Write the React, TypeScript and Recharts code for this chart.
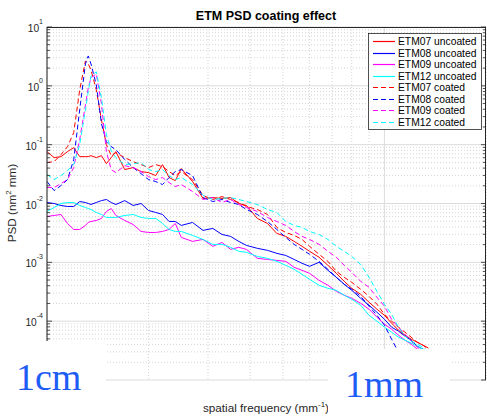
import React from "react";
import { CartesianGrid, Line, LineChart, XAxis, YAxis } from "recharts";

// spatial frequency (mm^-1)
const freq = [
  0.1, 0.105, 0.11, 0.115, 0.12, 0.125, 0.13, 0.1325, 0.135, 0.14,
  0.145, 0.15, 0.155, 0.16, 0.17, 0.18, 0.19, 0.2, 0.21, 0.22,
  0.23, 0.24, 0.25, 0.27, 0.29, 0.31, 0.33, 0.35, 0.37, 0.39,
  0.42, 0.45, 0.48, 0.51, 0.54, 0.57, 0.6, 0.64, 0.68, 0.72,
  0.76, 0.8, 0.85, 0.9, 0.95, 1.0, 1.05, 1.1, 1.15, 1.2,
  1.25, 1.3, 1.35,
];

const etm07Uncoated = [
  0.0761, 0.0602, 0.0626, 0.0761, 0.089, 0.0626, 0.0626, 0.0626, 0.0651, 0.0602,
  0.0651, 0.0476, 0.0602, 0.0761, 0.0377, 0.0408, 0.0349, 0.0335, 0.0298, 0.0458,
  0.0276, 0.0245, 0.0392, 0.0236, 0.0122, 0.0126, 0.0122, 0.0126, 0.01, 0.00925,
  0.00557, 0.00458, 0.0031, 0.00276, 0.00227, 0.00187, 0.00154, 0.00122, 0.00089, 0.000651,
  0.000476, 0.000362, 0.000287, 0.00021, 0.00016, 0.000126, 9.25e-5, 7.04e-5, 5.79e-5, 4.95e-5,
  4.4e-5, 3.92e-5, 3.49e-5,
];
const etm08Uncoated = [
  0.0104, 0.01, 0.00925, 0.0089, 0.0089, 0.0108, 0.0104, 0.01, 0.00962, 0.0104,
  0.0112, 0.0117, 0.0104, 0.00962, 0.0112, 0.00925, 0.01, 0.00761, 0.00704, 0.00651,
  0.00495, 0.00495, 0.00424, 0.00476, 0.00349, 0.00377, 0.00298, 0.00276, 0.00227, 0.00194,
  0.00173, 0.0016, 0.00142, 0.00131, 0.00112, 0.000962, 0.000855, 0.001, 0.000732, 0.000557,
  0.000424, 0.000335, 0.000245, 0.000187, 0.000142, 0.000108, 7.91e-5, 6.77e-5, 5.57e-5, 4.76e-5,
  3.77e-5, 3.35e-5, 3.1e-5,
];
const etm09Uncoated = [
  0.00602, 0.00626, 0.00651, 0.00458, 0.00362, 0.00362, 0.00424, 0.00476, 0.00495, 0.00515,
  0.00557, 0.00732, 0.00823, 0.00626, 0.00515, 0.0044, 0.00335, 0.00322, 0.00322, 0.00335,
  0.00362, 0.00458, 0.00265, 0.00227, 0.00245, 0.00187, 0.00218, 0.00166, 0.0018, 0.00166,
  0.00117, 0.00112, 0.00108, 0.00104, 0.000823, 0.000732, 0.000651, 0.000495, 0.000408, 0.000322,
  0.000276, 0.000245, 0.000202, 0.00016, 0.000117, 8.9e-5, 7.32e-5, 5.79e-5, 4.76e-5, 4.08e-5,
  3.35e-5, 3.0e-5, 2.65e-5,
];
const etm12Uncoated = [
  0.00732, 0.00855, 0.01, 0.0104, 0.0104, 0.00925, 0.00855, 0.00823, 0.00791, 0.00704,
  0.00651, 0.00579, 0.00579, 0.00579, 0.00626, 0.00651, 0.00579, 0.00557, 0.00557, 0.00458,
  0.00362, 0.00335, 0.00335, 0.00287, 0.00245, 0.00202, 0.00202, 0.0018, 0.00154, 0.00148,
  0.00126, 0.00117, 0.00104, 0.00089, 0.000761, 0.000626, 0.000515, 0.000408, 0.000362, 0.000335,
  0.000276, 0.000236, 0.000187, 0.000126, 0.0001, 7.91e-5, 6.51e-5, 5.35e-5, 4.76e-5, 4.24e-5,
  3.77e-5, 3.35e-5, 3.0e-5,
];
const etm07Coated = [
  0.0495, 0.0515, 0.0677, 0.0925, 0.16, 0.855, 2.65, 2.36, 1.87, 0.855,
  0.265, 0.1, 0.0651, 0.0732, 0.0602, 0.0515, 0.0458, 0.0408, 0.0458, 0.0424,
  0.0349, 0.0298, 0.0349, 0.0255, 0.0137, 0.0117, 0.0131, 0.0117, 0.0104, 0.0089,
  0.00791, 0.00651, 0.00392, 0.00322, 0.00287, 0.00245, 0.00187, 0.00137, 0.00104, 0.000704,
  0.000557, 0.000458, 0.000349, 0.000265, 0.000194, 0.000131, 0.0001, 7.91e-5, 6.51e-5, 5.35e-5,
  4.4e-5, 3.92e-5, 3.35e-5,
];
const etm08Coated = [
  0.0236, 0.0166, 0.0202, 0.0255, 0.0557, 0.392, 2.36, 3.22, 2.36, 1.04,
  0.227, 0.112, 0.0925, 0.0823, 0.0557, 0.0408, 0.0322, 0.0255, 0.0236, 0.021,
  0.0276, 0.0349, 0.0377, 0.0298, 0.0126, 0.0108, 0.0117, 0.0104, 0.00962, 0.00791,
  0.00651, 0.00495, 0.00362, 0.00265, 0.00202, 0.00166, 0.00137, 0.00104, 0.000761, 0.000557,
  0.000424, 0.000349, 0.000265, 0.00018, 0.000126, 8.55e-5, 4.95e-5, 2.98e-5, null, null,
  null, null, null,
];
const etm09Coated = [
  0.0187, 0.0187, 0.0218, 0.0255, 0.0408, 0.122, 0.476, 0.925, 1.37, 1.6,
  0.495, 0.0761, 0.0377, 0.0335, 0.044, 0.0408, 0.0349, 0.0287, 0.0255, 0.0276,
  0.0227, 0.0194, 0.021, 0.016, 0.0117, 0.0126, 0.0104, 0.0117, 0.00962, 0.00855,
  0.00732, 0.00579, 0.00495, 0.00424, 0.00335, 0.00276, 0.00245, 0.00202, 0.00154, 0.00122,
  0.00089, 0.000677, 0.000476, 0.000377, 0.000255, 0.00018, 0.000108, 7.91e-5, 6.02e-5, 4.58e-5,
  3.62e-5, 3.1e-5, 2.9e-5,
];
const etm12Coated = [
  0.031, 0.0255, 0.0298, 0.0362, 0.0458, 0.1, 0.392, 0.791, 1.48, 1.73,
  0.626, 0.148, 0.0791, 0.0602, 0.0458, 0.0476, 0.0495, 0.0377, 0.0349, 0.0377,
  0.0298, 0.0255, 0.0276, 0.021, 0.0137, 0.0117, 0.0122, 0.0126, 0.0117, 0.0108,
  0.00962, 0.00791, 0.00704, 0.00495, 0.00424, 0.00392, 0.00335, 0.00298, 0.00245, 0.00187,
  0.00154, 0.00126, 0.000925, 0.000557, 0.000322, 0.000194, 0.000131, 7.91e-5, 5.57e-5, 4.58e-5,
  4.08e-5, 3.62e-5, 3.1e-5,
];

const series = [
  { key: "u07", name: "ETM07 uncoated", color: "#ff0000", dash: undefined, values: etm07Uncoated },
  { key: "u08", name: "ETM08 uncoated", color: "#0000ff", dash: undefined, values: etm08Uncoated },
  { key: "u09", name: "ETM09 uncoated", color: "#ff00ff", dash: undefined, values: etm09Uncoated },
  { key: "u12", name: "ETM12 uncoated", color: "#00ffff", dash: undefined, values: etm12Uncoated },
  { key: "c07", name: "ETM07 coated", color: "#ff0000", dash: "5 3", values: etm07Coated },
  { key: "c08", name: "ETM08 coated", color: "#0000ff", dash: "5 3", values: etm08Coated },
  { key: "c09", name: "ETM09 coated", color: "#ff00ff", dash: "5 3", values: etm09Coated },
  { key: "c12", name: "ETM12 coated", color: "#00ffff", dash: "5 3", values: etm12Coated },
];

const yMajor = [1e-5, 1e-4, 1e-3, 1e-2, 1e-1, 1, 10];
// the 1e-5 label sits under the "1cm" box in the original, so it has none
const yExponents = [null, "-4", "-3", "-2", "-1", "0", "1"];
const xMajor = [0.1, 1];
const minorSteps = [2, 3, 4, 5, 6, 7, 8, 9];

const yMinor = yMajor.slice(0, -1).flatMap((m) => minorSteps.map((k) => Number((m * k).toPrecision(2))));
const xMinor = [...minorSteps.map((k) => Number((0.1 * k).toFixed(1))), 2];

const rows = freq.map((f, i) => {
  const r: Record<string, number | null> = { f };
  series.forEach((s) => (r[s.key] = s.values[i]));
  return r;
});

const W = 487;
const H = 419;
const PL = 47;
const PR = 486;
const PT = 27;
const PB = 380;
const AX = "#262626";
const SANS = "'Liberation Sans', Arial, Helvetica, sans-serif";

function YTick(props: any) {
  const { y, payload } = props;
  const mi = yMajor.findIndex((m) => Math.abs(m - payload.value) / m < 1e-6);
  const len = mi >= 0 ? 5 : 3;
  const exp = mi >= 0 ? yExponents[mi] : null;
  return (
    <g>
      <line x1={PL} x2={PL + len} y1={y} y2={y} stroke={AX} strokeWidth={0.8} />
      <line x1={PR} x2={PR - len} y1={y} y2={y} stroke={AX} strokeWidth={0.8} />
      {exp && (
        <text x={43} y={y + 5} textAnchor="end" fontSize={10.2} fill={AX} fontFamily={SANS}>
          10
          <tspan dy={-8} fontSize={7}>
            {exp}
          </tspan>
        </text>
      )}
    </g>
  );
}

function XTick(props: any) {
  const { x, payload } = props;
  const major = xMajor.some((m) => Math.abs(m - payload.value) < 1e-9);
  const len = major ? 5 : 4;
  return (
    <g>
      <line x1={x} x2={x} y1={PB} y2={PB - len} stroke={AX} strokeWidth={0.8} />
      <line x1={x} x2={x} y1={PT} y2={PT + len} stroke={AX} strokeWidth={0.8} />
    </g>
  );
}

export default function App() {
  return (
    <div style={{ position: "absolute", left: 0, top: 0, width: W, height: H, background: "#fff" }}>
      <LineChart width={W} height={H} data={rows} margin={{ top: PT, right: W - PR, bottom: H - PB, left: 0 }}>
        <CartesianGrid
          stroke="#d4d4d4"
          strokeDasharray="1 2"
          horizontalValues={yMinor}
          verticalValues={xMinor}
          syncWithTicks={false}
        />
        <CartesianGrid stroke="#dcdcdc" horizontalValues={yMajor} verticalValues={xMajor} syncWithTicks={false} />
        <XAxis
          dataKey="f"
          type="number"
          scale="log"
          domain={[0.1, 2]}
          allowDataOverflow
          ticks={[...xMajor, ...xMinor]}
          interval={0}
          height={0}
          tickLine={false}
          tick={XTick}
          axisLine={{ stroke: AX }}
        />
        <YAxis
          type="number"
          scale="log"
          domain={[1e-5, 10]}
          allowDataOverflow
          ticks={[...yMajor, ...yMinor]}
          interval={0}
          width={PL}
          tickLine={false}
          tick={YTick}
          axisLine={{ stroke: AX }}
        />
        {series.map((s) => (
          <Line
            key={s.key}
            dataKey={s.key}
            name={s.name}
            stroke={s.color}
            strokeWidth={1}
            strokeDasharray={s.dash}
            dot={false}
            activeDot={false}
            isAnimationActive={false}
            connectNulls={false}
          />
        ))}
      </LineChart>
      <svg width={W} height={H} style={{ position: "absolute", left: 0, top: 0, pointerEvents: "none" }}>
        <line x1={PL} x2={PR} y1={PT + 0.5} y2={PT + 0.5} stroke={AX} />
        <line x1={PR - 0.5} x2={PR - 0.5} y1={PT} y2={PB} stroke={AX} />
        <text x={266} y={19.5} textAnchor="middle" fontSize={12.5} fontWeight="bold" fill="#000" fontFamily={SANS}>
          ETM PSD coating effect
        </text>
        <text x={266} y={412} textAnchor="middle" fontSize={11.7} fill={AX} fontFamily={SANS}>
          spatial frequency (mm
          <tspan dy={-5} fontSize={8}>
            -1
          </tspan>
          <tspan dy={5}>)</tspan>
        </text>
        <text
          x={16}
          y={203}
          transform="rotate(-90 16 203)"
          textAnchor="middle"
          fontSize={11.7}
          fill={AX}
          fontFamily={SANS}
        >
          PSD (nm
          <tspan dy={-5} fontSize={8}>
            2
          </tspan>
          <tspan dy={5}> mm)</tspan>
        </text>
        <rect x={368.5} y={33.5} width={113} height={96} fill="#fff" stroke={AX} strokeWidth={0.8} />
        {series.map((s, i) => {
          const cy = Math.round(41 + i * 11.5) + 0.5;
          return (
            <g key={s.key}>
              <line x1={373} x2={395} y1={cy} y2={cy} stroke={s.color} strokeWidth={1.2} strokeDasharray={s.dash} />
              <text x={398} y={cy + 3.5} fontSize={10.3} fill="#000" fontFamily={SANS}>
                {s.name}
              </text>
            </g>
          );
        })}
        <rect x={0} y={341} width={106} height={78} fill="#fff" />
        <rect x={328} y={349} width={122} height={70} fill="#fff" />
        <text x={16} y={390} fontSize={38} fill="#1d5cf5" fontFamily="'Liberation Serif', 'Times New Roman', serif">
          1cm
        </text>
        <text x={345} y={397} fontSize={38} fill="#1d5cf5" fontFamily="'Liberation Serif', 'Times New Roman', serif">
          1mm
        </text>
      </svg>
    </div>
  );
}
